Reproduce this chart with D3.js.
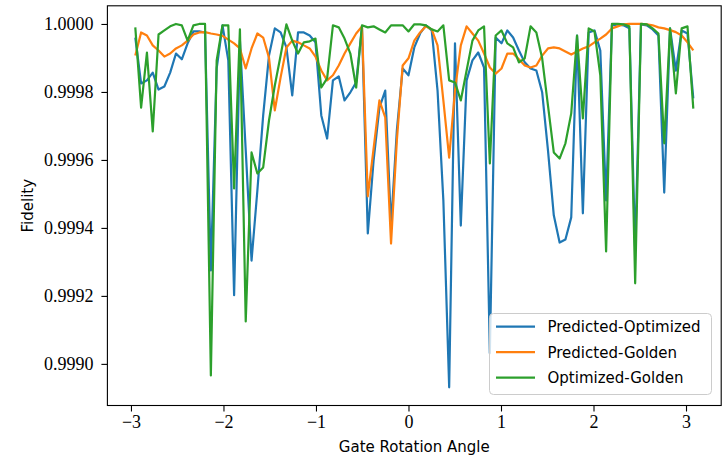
<!DOCTYPE html>
<html>
<head>
<meta charset="utf-8">
<script src="https://cdn.jsdelivr.net/npm/d3@7"></script>
<style>
  html, body { margin: 0; padding: 0; background: #fff; }
  svg { display: block; }
  .tick text { font-family: 'Liberation Serif', 'DejaVu Serif', serif; }
</style>
</head>
<body>
<svg id="chart" width="726" height="458"></svg>
<script>
// Gate rotation angles (radians), shared by all three curves
const angles = [
  -2.9531, -2.8903, -2.8274, -2.7646, -2.7018, -2.6389, -2.5761, -2.5133, -2.4504, -2.3876,
  -2.3248, -2.2619, -2.1991, -2.1363, -2.0735, -2.0106, -1.9478, -1.8850, -1.8221, -1.7593,
  -1.6965, -1.6336, -1.5708, -1.5080, -1.4451, -1.3823, -1.3195, -1.2566, -1.1938, -1.1310,
  -1.0681, -1.0053, -0.9425, -0.8796, -0.8168, -0.7540, -0.6912, -0.6283, -0.5655, -0.5027,
  -0.4398, -0.3770, -0.3142, -0.2513, -0.1885, -0.1257, -0.0628, 0.0000, 0.0628, 0.1257,
  0.1885, 0.2513, 0.3142, 0.3770, 0.4398, 0.5027, 0.5655, 0.6283, 0.6912, 0.7540,
  0.8168, 0.8796, 0.9425, 1.0053, 1.0681, 1.1310, 1.1938, 1.2566, 1.3195, 1.3823,
  1.4451, 1.5080, 1.5708, 1.6336, 1.6965, 1.7593, 1.8221, 1.8850, 1.9478, 2.0106,
  2.0735, 2.1363, 2.1991, 2.2619, 2.3248, 2.3876, 2.4504, 2.5133, 2.5761, 2.6389,
  2.7018, 2.7646, 2.8274, 2.8903, 2.9531, 3.0159, 3.0788
];

const predictedOptimized = [
  0.999960, 0.999825, 0.999834, 0.999857, 0.999807, 0.999816, 0.999857, 0.999913, 0.999896, 0.999943,
  0.999978, 0.999978, 0.999975, 0.999275, 0.999869, 0.999996, 0.999893, 0.999202, 0.999951, 0.999628,
  0.999304, 0.999510, 0.999731, 0.999907, 0.999987, 0.999975, 0.999931, 0.999790, 0.999975, 0.999975,
  0.999966, 0.999946, 0.999731, 0.999663, 0.999834, 0.999846, 0.999775, 0.999799, 0.999828, 0.999990,
  0.999384, 0.999599, 0.999754, 0.999804, 0.999407, 0.999687, 0.999869, 0.999849, 0.999931, 0.999972,
  0.999996, 0.999981, 0.999804, 0.999481, 0.998931, 0.999943, 0.999407, 0.999834, 0.999893, 0.999916,
  0.999872, 0.999031, 0.999960, 0.999943, 0.999981, 0.999960, 0.999922, 0.999887, 0.999869, 0.999863,
  0.999799, 0.999628, 0.999437, 0.999357, 0.999366, 0.999431, 0.999966, 0.999443, 0.999975, 0.999981,
  0.999922, 0.999481, 0.999996, 0.999999, 0.999996, 0.999987, 0.999334, 0.999999, 0.999996, 0.999984,
  0.999966, 0.999504, 0.999987, 0.999863, 0.999981, 0.999972, 0.999781
];

const predictedGolden = [
  0.999907, 0.999975, 0.999966, 0.999937, 0.999922, 0.999904, 0.999913, 0.999928, 0.999937, 0.999951,
  0.999969, 0.999975, 0.999976, 0.999972, 0.999969, 0.999965, 0.999954, 0.999943, 0.999928, 0.999869,
  0.999928, 0.999972, 0.999960, 0.999901, 0.999746, 0.999843, 0.999931, 0.999951, 0.999946, 0.999937,
  0.999928, 0.999904, 0.999863, 0.999834, 0.999849, 0.999878, 0.999913, 0.999943, 0.999972, 0.999993,
  0.999493, 0.999634, 0.999775, 0.999725, 0.999354, 0.999657, 0.999878, 0.999899, 0.999951, 0.999975,
  0.999993, 0.999984, 0.999937, 0.999775, 0.999607, 0.999804, 0.999937, 0.999993, 0.999972, 0.999951,
  0.999913, 0.999872, 0.999854, 0.999869, 0.999913, 0.999913, 0.999896, 0.999878, 0.999872, 0.999878,
  0.999907, 0.999928, 0.999931, 0.999928, 0.999919, 0.999910, 0.999919, 0.999928, 0.999934, 0.999946,
  0.999957, 0.999969, 0.999987, 0.999993, 0.999999, 1.000000, 1.000000, 1.000000, 0.999999, 0.999996,
  0.999990, 0.999987, 0.999982, 0.999976, 0.999966, 0.999946, 0.999922
];

const optimizedGolden = [
  0.999990, 0.999754, 0.999916, 0.999684, 0.999969, 0.999981, 0.999993, 1.000000, 0.999996, 0.999951,
  0.999996, 1.000000, 1.000000, 0.998966, 0.999893, 0.999996, 0.999996, 0.999516, 0.999984, 0.999125,
  0.999622, 0.999560, 0.999578, 0.999716, 0.999819, 0.999907, 0.999999, 0.999951, 0.999913, 0.999946,
  0.999949, 0.999957, 0.999813, 0.999840, 0.999996, 0.999990, 0.999957, 0.999913, 0.999813, 0.999996,
  0.999990, 0.999993, 0.999984, 0.999975, 0.999996, 0.999996, 0.999996, 0.999978, 0.999999, 0.999999,
  0.999996, 0.999984, 0.999978, 0.999996, 0.999834, 0.999828, 0.999775, 0.999863, 0.999951, 0.999981,
  0.999993, 0.999590, 0.999966, 0.999981, 0.999943, 0.999931, 0.999887, 0.999899, 0.999993, 0.999975,
  0.999899, 0.999760, 0.999622, 0.999604, 0.999649, 0.999737, 0.999966, 0.999722, 0.999987, 0.999978,
  0.999849, 0.999331, 1.000000, 1.000000, 0.999999, 0.999993, 0.999237, 1.000000, 0.999999, 0.999987,
  0.999972, 0.999649, 0.999987, 0.999796, 0.999987, 0.999993, 0.999751
];

const seriesNames = ["Predicted-Optimized", "Predicted-Golden", "Optimized-Golden"];
const seriesColors = ["#1f77b4", "#ff7f0e", "#2ca02c"];
const xTicks = [-3, -2, -1, 0, 1, 2, 3];
const yTicks = [0.9990, 0.9992, 0.9994, 0.9996, 0.9998, 1.0000];
const xLabel = "Gate Rotation Angle";
const yLabel = "Fidelity";

const series = [predictedOptimized, predictedGolden, optimizedGolden].map((vals, k) => ({
  name: seriesNames[k],
  color: seriesColors[k],
  points: angles.map((a, i) => ({ x: a, y: vals[i] }))
}));

// Plot frame
const frame = { left: 107.4, right: 721.2, top: 5.8, bottom: 405.5 };

// Autoscale with 5% padding on each side of the data extent
function padded(ext) {
  const span = ext[1] - ext[0];
  return [ext[0] - 0.05 * span, ext[1] + 0.05 * span];
}
const allY = predictedOptimized.concat(predictedGolden, optimizedGolden);
const x = d3.scaleLinear().domain(padded(d3.extent(angles))).range([frame.left, frame.right]);
const y = d3.scaleLinear().domain(padded(d3.extent(allY))).range([frame.bottom, frame.top]);

const svg = d3.select("#chart");
const serif = "'Liberation Serif', 'DejaVu Serif', serif";
const sans = "'DejaVu Sans', sans-serif";

// Lines
const line = d3.line().x(d => x(d.x)).y(d => y(d.y));
svg.append("defs").append("clipPath").attr("id", "plotclip")
  .append("rect").attr("x", frame.left).attr("y", frame.top)
  .attr("width", frame.right - frame.left).attr("height", frame.bottom - frame.top);

const g = svg.append("g").attr("clip-path", "url(#plotclip)");
series.forEach(s => {
  g.append("path")
    .datum(s.points)
    .attr("d", line)
    .attr("fill", "none")
    .attr("stroke", s.color)
    .attr("stroke-width", 2.2)
    .attr("stroke-linejoin", "round")
    .attr("stroke-linecap", "butt");
});

// Axes
const xAxis = d3.axisBottom(x).tickValues(xTicks).tickSize(6).tickPadding(5)
  .tickFormat(d => d < 0 ? "\u2212" + Math.abs(d) : String(d));
const yAxis = d3.axisLeft(y).tickValues(yTicks).tickSize(6).tickPadding(8)
  .tickFormat(d3.format(".4f"));

const gx = svg.append("g").attr("transform", `translate(0,${frame.bottom})`).call(xAxis);
const gy = svg.append("g").attr("transform", `translate(${frame.left},0)`).call(yAxis);
[gx, gy].forEach(ax => {
  ax.attr("font-family", serif).attr("font-size", 18);
  ax.select(".domain").remove();
  ax.selectAll(".tick line").attr("stroke", "#000").attr("stroke-width", 1.1);
  ax.selectAll(".tick text")
    .attr("fill", "#000")
    .attr("font-family", serif)
    .attr("font-size", 18);
});
gx.selectAll(".tick text").attr("dy", "0.66em");
gy.selectAll(".tick text").attr("dy", "0.33em");

// Frame
svg.append("rect")
  .attr("x", frame.left).attr("y", frame.top)
  .attr("width", frame.right - frame.left).attr("height", frame.bottom - frame.top)
  .attr("fill", "none").attr("stroke", "#000").attr("stroke-width", 1.1);

// Axis titles
svg.append("text")
  .attr("x", (frame.left + frame.right) / 2).attr("y", 452)
  .attr("text-anchor", "middle")
  .style("font-family", sans).style("font-size", "15px")
  .text(xLabel);
svg.append("text")
  .attr("transform", `translate(33,${(frame.top + frame.bottom) / 2}) rotate(-90)`)
  .attr("text-anchor", "middle")
  .style("font-family", sans).style("font-size", "15px")
  .text(yLabel);

// Legend
const lg = svg.append("g");
lg.append("rect")
  .attr("x", 489.5).attr("y", 313.5)
  .attr("width", 222).attr("height", 81)
  .attr("rx", 4).attr("ry", 4)
  .attr("fill", "#fff").attr("fill-opacity", 0.8)
  .attr("stroke", "#cccccc").attr("stroke-width", 1);
series.forEach((s, k) => {
  const cy = 326.7 + k * 25.5;
  lg.append("line")
    .attr("x1", 496).attr("x2", 535)
    .attr("y1", cy).attr("y2", cy)
    .attr("stroke", s.color).attr("stroke-width", 2.2);
  lg.append("text")
    .attr("x", 547.5).attr("y", cy + 5.5)
    .style("font-family", sans).style("font-size", "15px")
    .attr("fill", "#000")
    .text(s.name);
});
</script>
</body>
</html>
